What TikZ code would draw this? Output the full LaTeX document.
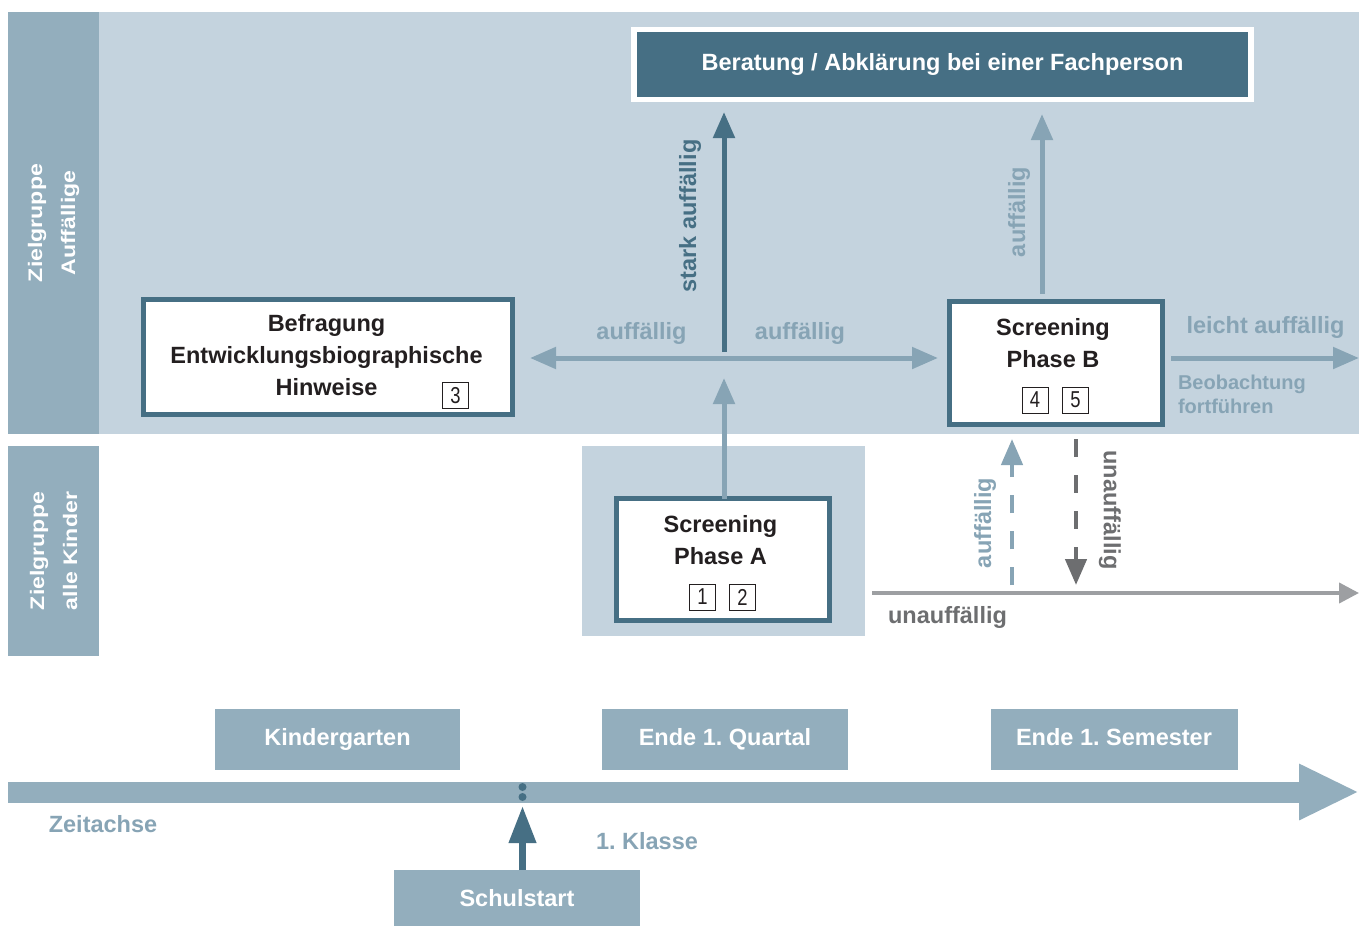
\documentclass[tikz,border=0pt]{standalone}
\usepackage{fontspec}
\setmainfont{Liberation Sans}
\newfontfamily\widefont[FakeStretch=1.18]{Liberation Sans}
\newfontfamily\condfont[FakeStretch=0.8]{Liberation Sans}
\usetikzlibrary{arrows.meta}
\definecolor{bandlight}{RGB}{196,211,222}
\definecolor{colhead}{RGB}{147,174,189}
\definecolor{darkblue}{RGB}{70,111,132}
\definecolor{midblue}{RGB}{135,164,181}
\definecolor{grayline}{RGB}{157,159,162}
\definecolor{graytext}{RGB}{109,110,112}
\definecolor{txt}{RGB}{35,31,32}
\frenchspacing
\begin{document}
\begin{tikzpicture}[x=1pt,y=-1pt,
  every node/.style={inner sep=0pt, outer sep=0pt},
  bf/.style={font=\fontsize{23.5}{32}\selectfont\bfseries},
  colbox/.style={fill=colhead, text=white, align=center, rotate=90,
    font=\widefont\fontsize{19.6}{33}\selectfont\bfseries},
  box/.style={draw=darkblue, line width=5pt, fill=white},
  boxtext/.style={bf, text=txt, align=center},
  numbox/.style={draw=txt, line width=0.9pt, minimum width=26pt, minimum height=26pt,
    fill=white, text=txt, font=\condfont\fontsize{23}{23}\selectfont},
  timebox/.style={fill=colhead, text=white, bf, text height=17pt, text depth=5pt},
  lblue/.style={bf, text=midblue},
  tip/.style={-{Triangle[length=26pt,width=21pt]}},
  midarr/.style={draw=midblue, line width=5pt},
  dotnode/.style={circle, fill=darkblue, minimum size=8pt}
]
\useasboundingbox (0,0) rectangle (1359,926);
\fill[white] (0,0) rectangle (1359,926);

% backgrounds
\fill[bandlight] (99,12) rectangle (1359,434);
\fill[bandlight] (582,446) rectangle (865,636);

% column heads
\node[colbox, minimum width=422pt, minimum height=91pt] (zgA) at (53.5,223) {Zielgruppe\\Auffällige};
\node[colbox, minimum width=210pt, minimum height=91pt] (zgB) at (53.5,551) {Zielgruppe\\alle Kinder};

% main boxes
\node[draw=white, line width=5.5pt, fill=darkblue, minimum width=617pt, minimum height=70pt,
  text=white, bf] (fach) at (942.5,64.5) {Beratung / Abklärung bei einer Fachperson};

\node[box, minimum width=369pt, minimum height=115pt] (bef) at (328,357) {};
\node[boxtext] (beft) at (326.5,355) {Befragung\\Entwicklungsbiographische\\Hinweise};
\node[numbox] (n3) at (455.5,395.5) {3};

\node[box, minimum width=213pt, minimum height=123pt] (phB) at (1056,363) {};
\node[boxtext] (phBt) at (1053,343) {Screening\\Phase B};
\node[numbox] (n4) at (1035,400) {4};
\node[numbox] (n5) at (1075.5,400) {5};

\node[box, minimum width=213pt, minimum height=122pt] (phA) at (723,559.5) {};
\node[boxtext] (phAt) at (720.5,540) {Screening\\Phase A};
\node[numbox] (n1) at (702.5,597) {1};
\node[numbox] (n2) at (742.5,597) {2};

% coordinates
\coordinate (hl) at (724,358);
\coordinate (rend) at (1359,358);
\coordinate (g0) at (872,593);
\coordinate (g1) at (1359,593);
\coordinate (du) at (1012,593);
\coordinate (dd) at (1076,593);
\coordinate (pbn) at ([xshift=-14pt]phB.north);

% arrows in upper band
\draw[midarr, {Triangle[length=26pt,width=21pt]}-{Triangle[length=26pt,width=21pt]},
  shorten <=17.5pt, shorten >=11.5pt] (bef.east |- hl) -- (phB.west |- hl);
\draw[midarr, tip, shorten >=20pt] (hl |- phA.north) -- (hl);
\draw[draw=darkblue, line width=5pt, tip, shorten <=6pt, shorten >=12.5pt] (hl) -- (hl |- fach.south);
\draw[midarr, tip, shorten <=8pt, shorten >=14.5pt] (pbn) -- (pbn |- fach.south);
\draw[midarr, tip, shorten <=8.5pt] (phB.east |- hl) -- (rend);

% lower right
\draw[draw=grayline, line width=4pt, -{Triangle[length=20pt,width=20pt]}] (g0) -- (g1);
\draw[draw=midblue, line width=4.5pt, dash pattern=on 18pt off 18pt, tip,
  shorten <=8pt, shorten >=14.5pt] (du) -- (du |- phB.south);
\draw[draw=graytext, line width=4.5pt, dash pattern=on 18pt off 18pt, tip,
  shorten <=14.5pt, shorten >=8pt] (dd |- phB.south) -- (dd);

% labels
\node[lblue] (la1) at (641.5,333) {auffällig};
\node[lblue] (la2) at (800,333) {auffällig};
\node[bf, text=darkblue, rotate=90] (lstark) at (690,216) {stark auffällig};
\node[lblue, rotate=90] (la3) at (1019,212) {auffällig};
\node[lblue] (lleicht) at (1265.5,327) {leicht auffällig};
\node[text=midblue, align=left, anchor=west, font=\fontsize{20}{24}\selectfont\bfseries] (lbeob) at (1178,394) {Beobachtung\\fortführen};
\node[lblue, rotate=90] (la4) at (985,523) {auffällig};
\node[bf, text=graytext, rotate=-90] (lun1) at (1110,510) {unauffällig};
\node[bf, text=graytext] (lun2) at (947.5,617) {unauffällig};

% timeline
\coordinate (t0) at (8,792);
\coordinate (t1) at (1359,792);
\draw[draw=colhead, line width=21pt, -{Triangle[length=60pt,width=52pt]}] (t0) -- (t1);
\node[timebox, minimum width=245pt, minimum height=61pt] (kg) at (337.5,739.5) {Kindergarten};
\node[timebox, minimum width=246pt, minimum height=61pt] (eq) at (725,739.5) {Ende 1. Quartal};
\node[timebox, minimum width=247pt, minimum height=61pt] (es) at (1114,739.5) {Ende 1. Semester};
\node[timebox, text depth=1pt, minimum width=246pt, minimum height=56pt] (schul) at (517,898) {Schulstart};
\node[dotnode] (d1) at (522.5,787) {};
\node[dotnode] (d2) at (522.5,797) {};
\draw[draw=darkblue, line width=7pt, -{Triangle[length=37pt,width=26pt]}, shorten >=5pt]
  (d2 |- schul.north) -- (d2.south);
\node[lblue] (lzeit) at (103,824) {Zeitachse};
\node[lblue] (lklasse) at (647,841) {1. Klasse};
\end{tikzpicture}
\end{document}
